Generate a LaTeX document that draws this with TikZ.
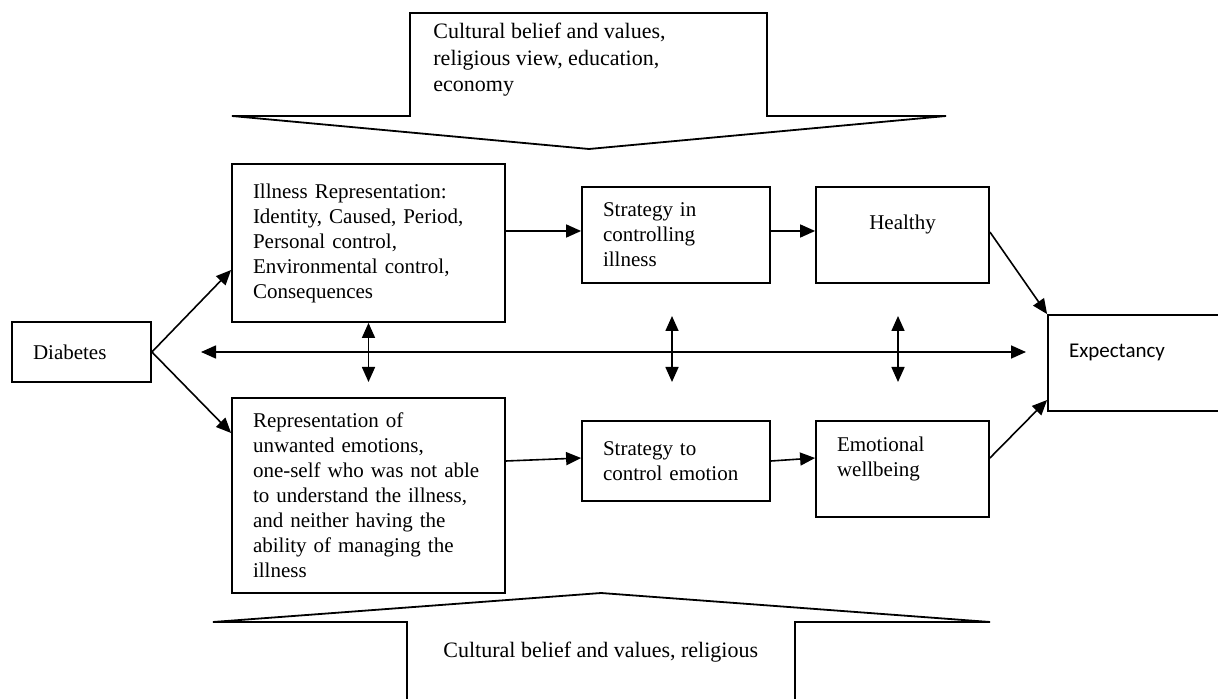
\documentclass[tikz,border=0pt]{standalone}
\usepackage{fontspec}
\setmainfont{Liberation Serif}
\newfontfamily\carlito{Carlito}
\usetikzlibrary{arrows.meta}

\begin{document}
\begin{tikzpicture}[x=0.5pt,y=-0.5pt,
  box/.style={draw,line width=0.9pt,inner xsep=10.5pt,inner ysep=0pt,align=left,
    font=\fontsize{10.5}{12.5}\selectfont},
  note/.style={inner sep=0pt,align=left,font=\fontsize{11}{13.25}\selectfont},
  blk/.style={draw,line width=0.9pt,line join=miter},
  arr/.style={line width=0.8pt,-{Triangle[length=7.5pt,width=6.5pt]}},
  darr/.style={line width=0.8pt,{Triangle[length=7.5pt,width=6.5pt]}-{Triangle[length=7.5pt,width=6.5pt]}}]
\clip (0,0) rectangle (1218,699);

% block arrows
\draw[blk] (410,13) -- (767,13) -- (767,116) -- (946,116) -- (589,149) -- (232,116) -- (410,116) -- cycle;
\draw[blk] (407,710) -- (407,622) -- (213,622) -- (601,593) -- (990,622) -- (795,622) -- (795,710);
\node[note,anchor=north west] (topnote) at (433,23) {Cultural belief and values,\\religious view, education,\\economy};
\node[note,anchor=base west] (botnote) at (443,657) {Cultural belief and values, religious};

% boxes
\node[box,text width=48.5pt,minimum height=30pt] (diab) at (81.5,352) {Diabetes};
\node[box,text width=115.5pt,minimum height=79pt] (illrep) at (368.5,243) {Illness Representation:\\Identity, Caused, Period,\\Personal control,\\Environmental control,\\Consequences};
\node[box,text width=115.5pt,minimum height=97.5pt] (unwrep) at (368.5,495.5) {Representation of\\unwanted emotions,\\one-self who was not able\\to understand the illness,\\and neither having the\\ability of managing the\\illness};
\node[box,text width=73pt,minimum height=48pt] (stratill) at (676,235) {Strategy in\\controlling\\illness};
\node[box,text width=65.5pt,minimum height=48pt,align=center] (healthy) at (902.5,235) {Healthy\\\mbox{}};
\node[box,text width=73pt,minimum height=40pt] (stratemo) at (676,461) {Strategy to\\control emotion};
\node[box,text width=65.5pt,minimum height=48pt] (emowell) at (902.5,469) {Emotional\\wellbeing\\\mbox{}};
\node[box,text width=66pt,minimum height=48pt,font=\carlito\fontsize{10.5}{12.5}\selectfont] (expect) at (1135,363) {Expectancy\\\mbox{}};

\coordinate (hl) at (201,352);
\coordinate (hr) at (1026,352);
\coordinate (va) at (368.5,382);
\coordinate (vb1) at (672,316);
\coordinate (vb2) at (672,382);
\coordinate (vc1) at (898,316);
\coordinate (vc2) at (898,382);

% connectors
\draw[arr] (diab.east) -- ([yshift=-13.5pt]illrep.west);
\draw[arr] (diab.east) -- ([yshift=31.25pt]unwrep.west);
\draw[arr] ([yshift=6pt]illrep.east) -- ([yshift=2pt]stratill.west);
\draw[arr] ([yshift=2pt]stratill.east) -- ([yshift=2pt]healthy.west);
\draw[arr] ([yshift=17.25pt]unwrep.east) -- ([yshift=1.5pt]stratemo.west);
\draw[arr] (stratemo.east) -- ([yshift=5.5pt]emowell.west);
\draw[arr] ([yshift=1.5pt]healthy.east) -- (expect.north west);
\draw[arr] ([yshift=5.5pt]emowell.east) -- ([yshift=-18.5pt]expect.west);
\draw[darr] (hl) -- (hr);
\draw[darr] (illrep.south) -- (va);
\draw[darr] (vb1) -- (vb2);
\draw[darr] (vc1) -- (vc2);
\end{tikzpicture}
\end{document}
